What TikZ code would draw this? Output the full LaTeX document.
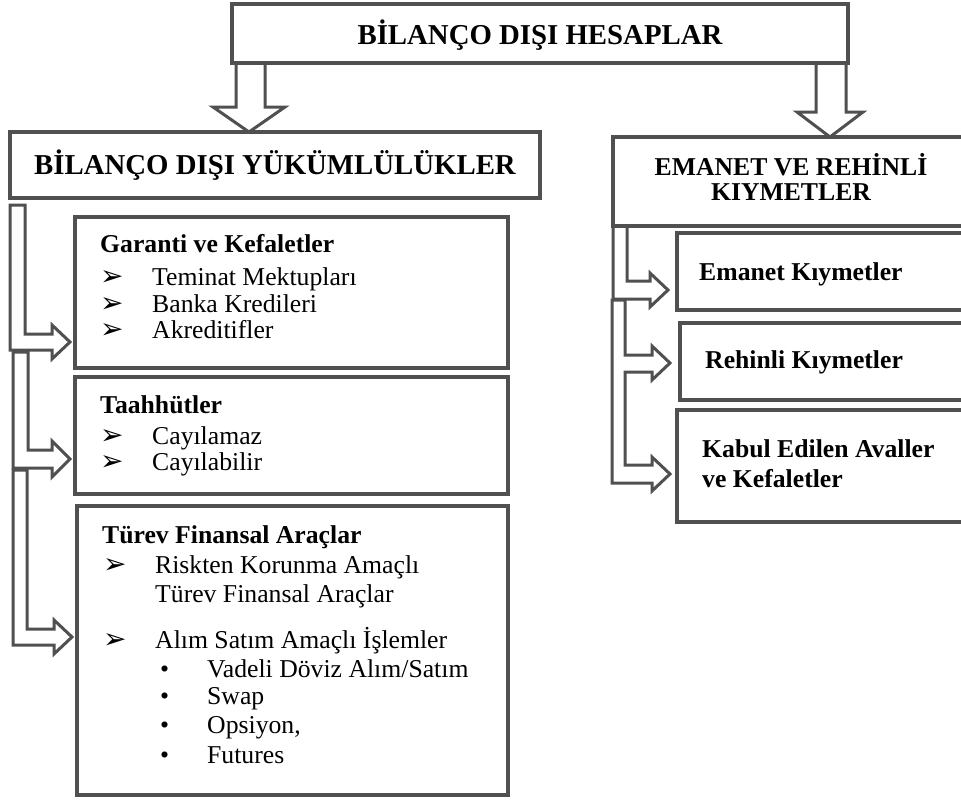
\documentclass[tikz,border=0pt]{standalone}
\usepackage{fontspec}
\setmainfont{Liberation Serif}
\newfontfamily\symfont{DejaVu Sans}
\definecolor{edge}{HTML}{505050}
\tikzset{
  boxframe/.style={draw=edge, line width=3.8pt, fill=white, inner sep=0pt},
  hollow/.style={draw=edge, line width=3pt, fill=white, line join=miter},
  headA/.style={anchor=base, inner sep=0pt, font=\fontsize{28.8}{32}\selectfont\bfseries},
  headB/.style={anchor=base, inner sep=0pt, font=\fontsize{25.7}{28}\selectfont\bfseries},
  lbl/.style={anchor=base west, inner sep=0pt, font=\fontsize{25.7}{28}\selectfont},
  lblb/.style={anchor=base west, inner sep=0pt, font=\fontsize{25.7}{28}\selectfont\bfseries},
  arrb/.style={anchor=base west, inner sep=0pt, font=\symfont\fontsize{28}{30}\selectfont},
  dotb/.style={anchor=base west, inner sep=0pt, font=\fontsize{25.7}{28}\selectfont},
}
\begin{document}
\begin{tikzpicture}[x=1pt,y=-1pt]
\useasboundingbox (0,0) rectangle (961,801);
\clip (0,0) rectangle (961,801);

% hollow connectors
\draw[hollow] (236,63) -- (236,107) -- (213,107) -- (249,132) -- (285,107) -- (265,107) -- (265,63);
\draw[hollow] (816,63) -- (816,112) -- (797,112) -- (830,137) -- (863,112) -- (846,112) -- (846,63);

\draw[hollow] (10,205) -- (10,350) -- (52,350) -- (52,359) -- (70,342) -- (52,325) -- (52,334) -- (25,334) -- (25,205) -- cycle;
\draw[hollow] (13,352) -- (13,468) -- (52,468) -- (52,477) -- (70,459) -- (52,441) -- (52,450) -- (28,450) -- (28,352) -- cycle;
\draw[hollow] (13,470) -- (13,645) -- (54,645) -- (54,654) -- (72,637) -- (54,620) -- (54,629) -- (27,629) -- (27,470) -- cycle;

\draw[hollow] (613,226) -- (613,299) -- (650,299) -- (650,307) -- (668,290) -- (650,273) -- (650,281) -- (627,281) -- (627,226);
\draw[hollow] (612,300) -- (612,483) -- (652,483) -- (652,491) -- (670,474) -- (652,457) -- (652,465) -- (625,465) -- (625,372) -- (652,372) -- (652,380) -- (670,363) -- (652,346) -- (652,355) -- (625,355) -- (625,300) -- cycle;

% boxes
\node[boxframe, minimum width=616pt, minimum height=59pt] (top) at (540,33.5) {};
\node[boxframe, minimum width=530pt, minimum height=66pt] (mainL) at (275,165) {};
\node[boxframe, minimum width=356pt, minimum height=89pt] (mainR) at (791,181.5) {};
\node[boxframe, minimum width=433pt, minimum height=151pt] (gar) at (291.5,292.5) {};
\node[boxframe, minimum width=433pt, minimum height=117pt] (taa) at (291.5,435.5) {};
\node[boxframe, minimum width=431pt, minimum height=289pt] (tur) at (292.5,650.5) {};
\node[boxframe, minimum width=298pt, minimum height=77pt] (ema) at (826,271.5) {};
\node[boxframe, minimum width=295pt, minimum height=77pt] (reh) at (827.5,361.5) {};
\node[boxframe, minimum width=298pt, minimum height=112pt] (kab) at (826,466) {};

% headings
\node[headA] (toptxt) at (540,44) {BİLANÇO DIŞI HESAPLAR};
\node[headA] (mainLtxt) at (275,174) {BİLANÇO DIŞI YÜKÜMLÜLÜKLER};
\node[headB] (mainRtxt1) at (791,175) {EMANET VE REHİNLİ};
\node[headB] (mainRtxt2) at (791,200) {KIYMETLER};

% Garanti
\node[lblb] (garT) at (100,252) {Garanti ve Kefaletler};
\node[arrb] (garB1) at (100,285) {➢};
\node[lbl] (garI1) at (152,285) {Teminat Mektupları};
\node[arrb] (garB2) at (100,312) {➢};
\node[lbl] (garI2) at (152,312) {Banka Kredileri};
\node[arrb] (garB3) at (100,338) {➢};
\node[lbl] (garI3) at (152,338) {Akreditifler};

% Taahhutler
\node[lblb] (taaT) at (100,413) {Taahhütler};
\node[arrb] (taaB1) at (100,444) {➢};
\node[lbl] (taaI1) at (152,444) {Cayılamaz};
\node[arrb] (taaB2) at (100,470) {➢};
\node[lbl] (taaI2) at (152,470) {Cayılabilir};

% Turev
\node[lblb] (turT) at (102,543) {Türev Finansal Araçlar};
\node[arrb] (turB1) at (103,573) {➢};
\node[lbl] (turI1) at (155,573) {Riskten Korunma Amaçlı};
\node[lbl] (turI1b) at (155,602) {Türev Finansal Araçlar};
\node[arrb] (turB2) at (103,648) {➢};
\node[lbl] (turI2) at (155,648) {Alım Satım Amaçlı İşlemler};
\node[dotb] (turD1) at (160,677) {•};
\node[lbl] (turS1) at (207,677) {Vadeli Döviz Alım/Satım};
\node[dotb] (turD2) at (160,704) {•};
\node[lbl] (turS2) at (207,704) {Swap};
\node[dotb] (turD3) at (160,733) {•};
\node[lbl] (turS3) at (207,733) {Opsiyon,};
\node[dotb] (turD4) at (160,763) {•};
\node[lbl] (turS4) at (207,763) {Futures};

% right items
\node[lblb] (emaT) at (699,280) {Emanet Kıymetler};
\node[lblb] (rehT) at (705,368) {Rehinli Kıymetler};
\node[lblb] (kabT1) at (702,457) {Kabul Edilen Avaller};
\node[lblb] (kabT2) at (702,487) {ve Kefaletler};
\end{tikzpicture}
\end{document}
